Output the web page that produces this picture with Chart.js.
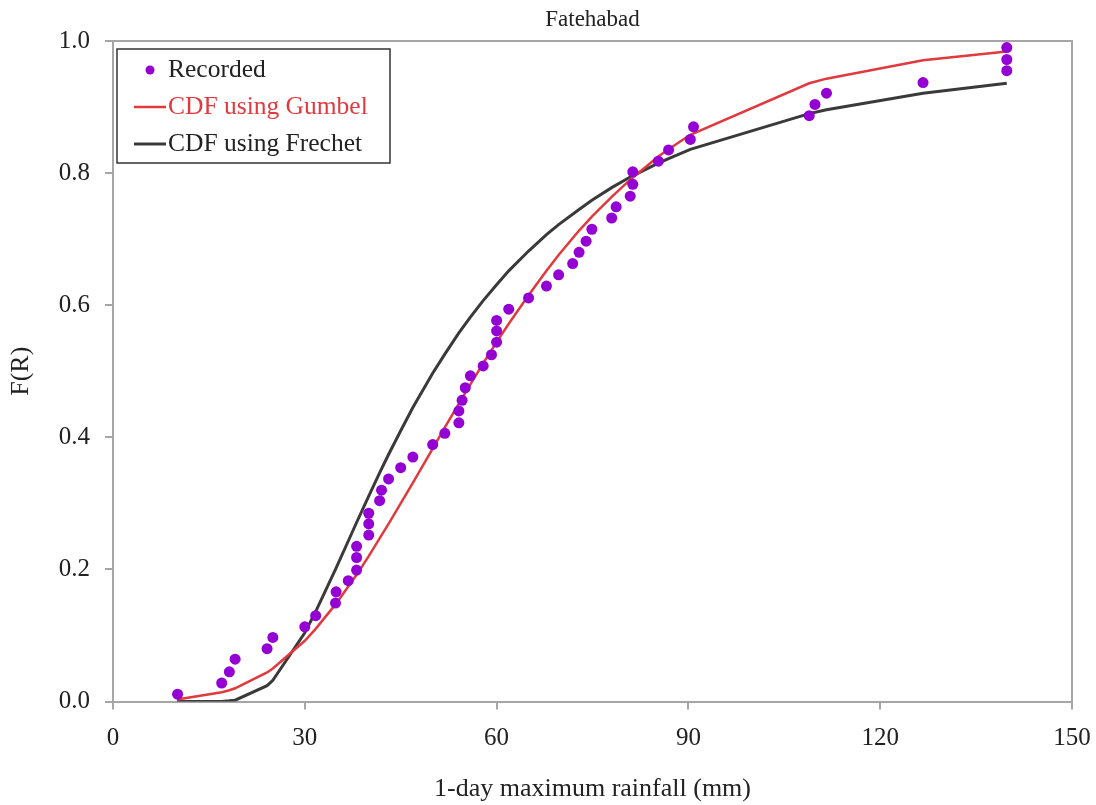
<!DOCTYPE html>
<html>
<head>
<meta charset="utf-8">
<script src="https://cdn.jsdelivr.net/npm/chart.js@4.4.1/dist/chart.umd.min.js"></script>
<style>
  html, body { margin: 0; padding: 0; background: #ffffff; }
  #wrap { width: 1096px; height: 805px; position: relative; }
</style>
</head>
<body>
<div id="wrap"><canvas id="c" width="1096" height="805"></canvas></div>
<script>
// ---- Data ----
const chartTitle = 'Fatehabad';
const xAxisTitle = '1-day maximum rainfall (mm)';
const yAxisTitle = 'F(R)';
const seriesNames = ['Recorded', 'CDF using Gumbel', 'CDF using Frechet'];

const xTicks = [0, 30, 60, 90, 120, 150];
const yTicks = [0.0, 0.2, 0.4, 0.6, 0.8, 1.0];

// Recorded (observed) points
const recordedX = [10.1, 17.0, 18.2, 19.1, 24.1, 25.0, 30.0, 31.7, 34.8, 34.9, 36.8,
  38.1, 38.1, 38.1, 40.0, 40.0, 40.0, 41.7, 42.0, 43.1, 45.0, 46.9, 50.0, 51.9,
  54.1, 54.1, 54.6, 55.1, 55.9, 57.9, 59.2, 60.0, 60.0, 60.0, 61.9, 65.0, 67.8,
  69.7, 71.9, 72.9, 74.0, 74.9, 78.0, 78.7, 80.9, 81.3, 81.3, 85.3, 86.9, 90.3,
  90.8, 108.9, 109.8, 111.6, 126.7, 139.8, 139.8, 139.8];
const recordedF = [0.011, 0.028, 0.045, 0.064, 0.080, 0.097, 0.113, 0.130, 0.149, 0.166, 0.183,
  0.199, 0.218, 0.235, 0.252, 0.269, 0.285, 0.304, 0.320, 0.337, 0.354, 0.370, 0.389, 0.406,
  0.422, 0.440, 0.456, 0.475, 0.493, 0.508, 0.525, 0.544, 0.561, 0.577, 0.594, 0.611, 0.629,
  0.646, 0.663, 0.680, 0.697, 0.715, 0.732, 0.749, 0.765, 0.783, 0.802, 0.818, 0.835, 0.851,
  0.870, 0.887, 0.904, 0.921, 0.937, 0.955, 0.972, 0.990];

// Curve sample positions (mm) and CDF values
const curveX = [10, 17, 18.2, 19.1, 24.1, 25, 30, 31.7, 34.8, 36.8, 38.1, 40, 41.7, 43.1,
  45, 46.9, 50, 51.9, 54.1, 55.9, 57.9, 60, 61.9, 65, 67.8, 69.7, 72.9, 74.9, 78, 80.9,
  85.3, 86.9, 90.3, 108.9, 111.6, 126.7, 139.8];
const gumbelF = [0.003, 0.014, 0.017, 0.020, 0.044, 0.050, 0.092, 0.110, 0.147, 0.174, 0.192,
  0.220, 0.247, 0.269, 0.300, 0.331, 0.383, 0.415, 0.451, 0.480, 0.512, 0.544, 0.572, 0.615,
  0.652, 0.676, 0.713, 0.734, 0.764, 0.790, 0.825, 0.836, 0.858, 0.936, 0.943, 0.971, 0.984];
const frechetF = [0.000, 0.000, 0.001, 0.002, 0.024, 0.032, 0.104, 0.136, 0.200, 0.243, 0.271,
  0.311, 0.346, 0.374, 0.410, 0.445, 0.497, 0.526, 0.558, 0.582, 0.607, 0.631, 0.652, 0.682,
  0.707, 0.722, 0.745, 0.759, 0.778, 0.794, 0.815, 0.822, 0.836, 0.890, 0.896, 0.921, 0.936];

// ---- Styles ----
const COL_POINT = '#9400d3';
const COL_GUMBEL = '#e03a3e';
const COL_FRECHET = '#3a3a3a';
const COL_AXIS = '#a6a6a6';
const SERIF = '"Liberation Serif", "DejaVu Serif", serif';

const toXY = (xs, ys) => xs.map((x, i) => ({ x: x, y: ys[i] }));

const framePlugin = {
  id: 'frame',
  beforeDatasetsDraw(chart) {
    const { ctx, chartArea: a } = chart;
    ctx.save();
    ctx.strokeStyle = COL_AXIS;
    ctx.lineWidth = 2;
    ctx.beginPath();
    ctx.moveTo(a.left, a.top);
    ctx.lineTo(a.right, a.top);
    ctx.lineTo(a.right, a.bottom);
    ctx.stroke();
    ctx.restore();
  }
};

const legendPlugin = {
  id: 'boxLegend',
  afterDraw(chart) {
    const { ctx } = chart;
    const x0 = 117, y0 = 49, w = 273, h = 114;
    ctx.save();
    ctx.fillStyle = '#ffffff';
    ctx.fillRect(x0, y0, w, h);
    ctx.strokeStyle = '#333333';
    ctx.lineWidth = 1.5;
    ctx.strokeRect(x0, y0, w, h);
    ctx.font = '25.5px ' + SERIF;
    ctx.textBaseline = 'middle';
    const rows = [70, 107, 144];
    // Recorded
    ctx.fillStyle = COL_POINT;
    ctx.beginPath();
    ctx.arc(150, rows[0], 4.5, 0, Math.PI * 2);
    ctx.fill();
    ctx.fillStyle = '#222222';
    ctx.fillText(seriesNames[0], 168, rows[0]);
    // Gumbel
    ctx.strokeStyle = COL_GUMBEL;
    ctx.lineWidth = 2.5;
    ctx.beginPath(); ctx.moveTo(134, rows[1]); ctx.lineTo(166, rows[1]); ctx.stroke();
    ctx.fillStyle = COL_GUMBEL;
    ctx.fillText(seriesNames[1], 168, rows[1]);
    // Frechet
    ctx.strokeStyle = COL_FRECHET;
    ctx.lineWidth = 3;
    ctx.beginPath(); ctx.moveTo(134, rows[2]); ctx.lineTo(166, rows[2]); ctx.stroke();
    ctx.fillStyle = '#222222';
    ctx.fillText(seriesNames[2], 168, rows[2]);
    ctx.restore();
  }
};

new Chart(document.getElementById('c'), {
  type: 'scatter',
  data: {
    datasets: [
      {
        label: seriesNames[0],
        data: toXY(recordedX, recordedF),
        backgroundColor: COL_POINT,
        borderColor: COL_POINT,
        pointRadius: 5.5,
        borderWidth: 0,
        showLine: false
      },
      {
        label: seriesNames[1],
        data: toXY(curveX, gumbelF),
        borderColor: COL_GUMBEL,
        backgroundColor: COL_GUMBEL,
        borderWidth: 2.5,
        pointRadius: 0,
        showLine: true,
        tension: 0
      },
      {
        label: seriesNames[2],
        data: toXY(curveX, frechetF),
        borderColor: COL_FRECHET,
        backgroundColor: COL_FRECHET,
        borderWidth: 3,
        pointRadius: 0,
        showLine: true,
        tension: 0
      }
    ]
  },
  options: {
    responsive: false,
    animation: false,
    layout: { padding: { left: 0, right: 24, top: 0, bottom: 0 } },
    plugins: {
      legend: { display: false },
      tooltip: { enabled: false },
      title: {
        display: true,
        text: chartTitle,
        fullSize: false,
        color: '#222222',
        font: { family: SERIF, size: 23, weight: 'normal' },
        padding: { top: 6, bottom: 7.4 }
      }
    },
    scales: {
      x: {
        type: 'linear',
        min: 0, max: 150,
        afterBuildTicks: (s) => { s.ticks = xTicks.map(v => ({ value: v })); },
        afterFit: (s) => { s.height = 103.5; s.paddingLeft = 0; s.paddingRight = 0; },
        ticks: {
          color: '#222222',
          font: { family: SERIF, size: 25 },
          padding: 14,
          callback: (v) => String(v)
        },
        grid: { display: true, drawOnChartArea: false, drawTicks: true, tickLength: 8, color: COL_AXIS, lineWidth: 2 },
        border: { display: true, color: COL_AXIS, width: 2 },
        title: {
          display: true,
          text: xAxisTitle,
          color: '#222222',
          font: { family: SERIF, size: 26 },
          padding: { top: 0, bottom: 0 }
        }
      },
      y: {
        type: 'linear',
        min: 0, max: 1,
        afterBuildTicks: (s) => { s.ticks = yTicks.map(v => ({ value: v })); },
        afterFit: (s) => { s.width = 113; s.paddingTop = 0; s.paddingBottom = 0; },
        ticks: {
          color: '#222222',
          font: { family: SERIF, size: 25 },
          padding: 15,
          callback: (v) => Number(v).toFixed(1)
        },
        grid: { display: true, drawOnChartArea: false, drawTicks: true, tickLength: 8, color: COL_AXIS, lineWidth: 2 },
        border: { display: true, color: COL_AXIS, width: 2 },
        title: {
          display: true,
          text: yAxisTitle,
          color: '#222222',
          font: { family: SERIF, size: 26 },
          padding: { top: 6, bottom: 0 }
        }
      }
    }
  },
  plugins: [framePlugin, legendPlugin]
});
</script>
</body>
</html>
